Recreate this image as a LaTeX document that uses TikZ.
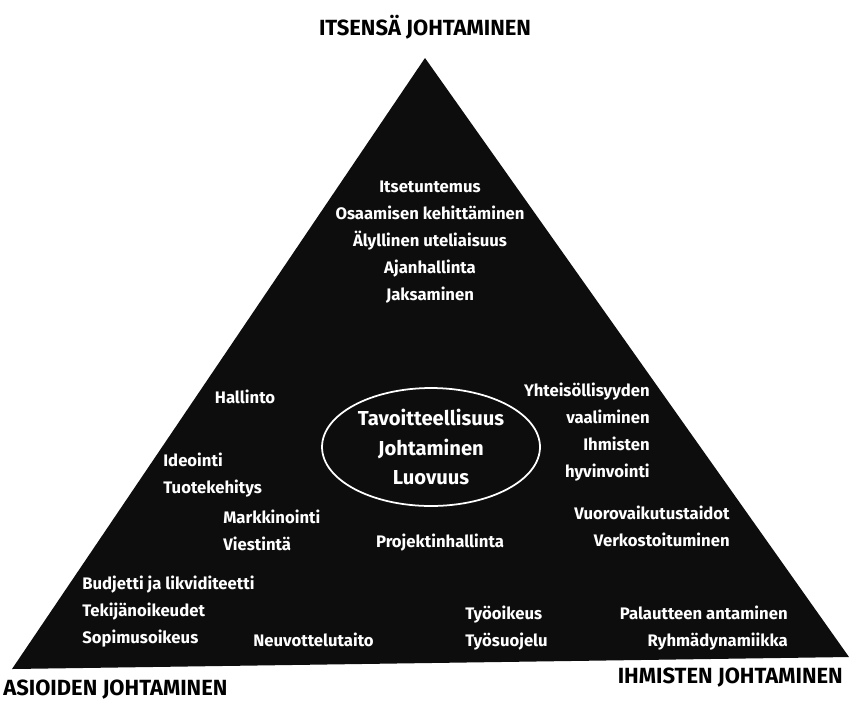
\documentclass[tikz,border=0pt]{standalone}
\usepackage{fontspec}
\setmainfont{Fira Sans}
\usepackage{tikz}
\usetikzlibrary{shapes.geometric}

\begin{document}
\begin{tikzpicture}[x=0.02cm, y=-0.02cm,
    item/.style={text=white, inner sep=0, font=\fontsize{9.5}{15.4}\selectfont\bfseries},
    corner/.style={text=black, inner sep=0, font=\fontsize{12.5}{15}\selectfont\bfseries},
    core/.style={ellipse, draw=white, line width=1pt, text=white, inner sep=0,
                 minimum width=4.36cm, minimum height=2.36cm, align=center,
                 font=\fontsize{11.5}{17}\selectfont\bfseries}]
                \fill[white] (0,0) rectangle (854,704);
                \useasboundingbox (0,0) rectangle (854,704);

                \coordinate (apex) at (425,58);
                \coordinate (left) at (12,669);
                \coordinate (right) at (849,657);
                \fill[black!95] (apex) -- (right) -- (left) -- cycle;

                \node[corner] (self) at (425,27) {ITSENSÄ JOHTAMINEN};
                \node[corner, anchor=west] (things) at (3,690) {ASIOIDEN JOHTAMINEN};
                \node[corner, anchor=east] (people) at (843,678) {IHMISTEN JOHTAMINEN};

                \node[core] (goal) at (431,447) {Tavoitteellisuus\\Johtaminen\\Luovuus};

                \node[item, align=center] (selfskills) at (430,242)
                    {Itsetuntemus\\Osaamisen kehittäminen\\Älyllinen uteliaisuus\\Ajanhallinta\\Jaksaminen};
                \node[item] (admin) at (245,397) {Hallinto};
                \node[item, anchor=west, align=left] (ideas) at (163,475) {Ideointi\\Tuotekehitys};
                \node[item, anchor=west, align=left] (market) at (223,530) {Markkinointi\\Viestintä};
                \node[item] (project) at (440,543) {Projektinhallinta};
                \node[item, anchor=west, align=left] (budget) at (82,612)
                    {Budjetti ja likviditeetti\\Tekijänoikeudet\\Sopimusoikeus};
                \node[item, anchor=west] (negot) at (253,640) {Neuvottelutaito};
                \node[item, anchor=west, align=left] (worklaw) at (465,628) {Työoikeus\\Työsuojelu};
                \node[item, anchor=east, align=right] (feedback) at (788,628)
                    {Palautteen antaminen\\Ryhmädynamiikka};
                \node[item, anchor=east, align=right] (community) at (650,432)
                    {Yhteisöllisyyden\\vaaliminen\\Ihmisten\\hyvinvointi};
                \node[item, anchor=east, align=right] (network) at (730,526)
                    {Vuorovaikutustaidot\\Verkostoituminen};
            \end{tikzpicture}
\end{document}
